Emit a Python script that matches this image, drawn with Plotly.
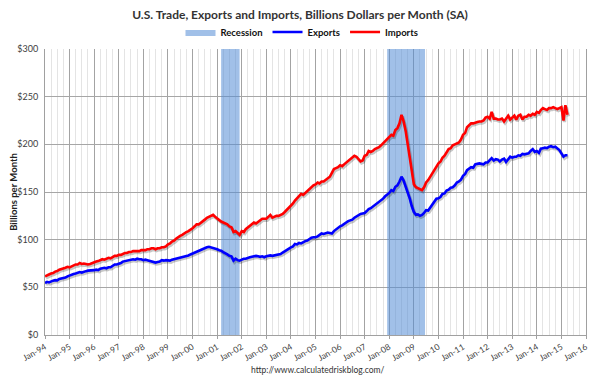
import pandas as pd
import plotly.graph_objects as go

# Monthly values, billions of dollars, Jan 1994 onward (seasonally adjusted)
exports = [
    54.5, 55.8, 55.2, 56.5, 57.0, 57.5, 57.3, 58.8, 59.2, 59.5, 60.3, 61.5,
    62.5, 63.5, 64.0, 64.5, 65.0, 66.0, 65.5, 66.5, 67.0, 67.5, 67.5, 68.0,
    68.0, 68.5, 68.0, 69.5, 70.0, 70.5, 70.0, 71.0, 71.0, 73.0, 74.0, 74.0,
    74.5, 75.5, 77.0, 77.5, 77.5, 78.5, 79.0, 79.5, 79.0, 80.0, 79.5, 79.5,
    78.5, 79.0, 78.5, 78.0, 77.0, 76.5, 76.0, 76.5, 77.0, 78.5, 78.0, 78.5,
    78.0, 78.0, 79.0, 79.5, 80.0, 80.5, 81.0, 82.0, 82.5, 83.0, 83.5, 84.5,
    85.5, 86.0, 87.0, 88.0, 89.0, 90.5, 91.0, 92.0, 92.5, 92.0, 91.5, 91.0,
    90.0, 89.0, 88.5, 87.0, 86.0, 84.5, 83.0, 82.5, 78.0, 80.0, 78.5, 78.0,
    79.0, 80.0, 80.0, 81.0, 81.5, 82.0, 82.5, 83.0, 82.5, 82.0, 82.5, 81.5,
    82.5, 83.0, 83.5, 83.0, 83.5, 84.0, 85.0, 85.0, 86.5, 88.0, 89.0, 90.5,
    92.0, 93.0, 95.5, 95.0, 96.5, 96.0, 97.5, 98.5, 99.0, 100.5, 102.0, 102.5,
    102.5, 103.5, 105.0, 106.5, 106.0, 107.0, 107.5, 107.0, 106.5, 109.0, 111.0, 112.0,
    114.0, 115.0, 116.0, 118.0, 119.5, 120.0, 121.0, 123.0, 124.5, 125.5, 127.0, 127.5,
    128.0, 130.0, 132.0, 133.0, 134.5, 136.0, 137.5, 139.5, 141.5, 143.0, 145.5, 147.0,
    149.0, 152.0, 151.0, 155.5, 157.0, 161.0, 166.0, 162.0, 156.0, 150.0, 143.0, 135.0,
    129.0, 126.0, 126.5, 125.0, 126.0, 128.0, 131.0, 130.5, 134.0, 137.5, 140.0, 143.0,
    143.5, 145.0, 148.0, 148.5, 151.5, 152.5, 154.5, 155.0, 157.0, 160.0, 161.0, 163.0,
    167.0, 169.0, 173.0, 174.5, 176.0, 175.5, 179.0, 179.5, 180.0, 179.5, 179.0, 181.0,
    181.0, 183.5, 185.5, 183.0, 184.5, 184.0, 182.0, 184.0, 185.0, 181.5, 185.0, 187.0,
    186.0, 187.0, 187.0, 188.5, 188.0, 190.0, 189.5, 190.0, 190.5, 193.0, 195.0, 192.0,
    193.0, 191.0, 195.5, 196.0, 196.5, 196.0, 197.5, 198.0, 197.0, 197.5, 196.0, 194.0,
    190.5, 187.0, 188.5, 188.5,
]

imports = [
    61.5, 63.0, 63.5, 64.5, 65.0, 66.5, 67.0, 68.5, 69.0, 70.0, 70.5, 71.5,
    71.0, 72.0, 73.0, 74.0, 74.0, 75.5, 74.5, 75.0, 74.5, 74.0, 74.5, 75.5,
    76.5, 77.0, 77.5, 79.0, 79.5, 79.0, 80.0, 81.0, 80.5, 82.0, 83.0, 83.0,
    84.0, 84.0, 85.0, 86.0, 86.0, 87.0, 87.0, 88.0, 88.0, 88.0, 88.0, 89.0,
    89.0, 89.0, 90.0, 90.0, 91.0, 91.0, 90.0, 91.0, 91.0, 92.0, 92.0, 93.0,
    95.0, 96.0, 98.0, 99.0, 101.0, 103.0, 104.0, 105.0, 107.0, 108.0, 109.0, 111.0,
    112.0, 114.0, 116.0, 116.0, 118.0, 120.0, 121.0, 123.0, 124.0, 125.0, 126.0, 124.0,
    122.0, 120.0, 119.0, 118.0, 117.0, 116.0, 114.0, 113.0, 108.0, 109.0, 107.0, 105.0,
    109.0, 108.0, 111.0, 113.0, 115.0, 117.0, 118.0, 117.0, 119.0, 120.0, 122.0, 122.0,
    122.0, 124.0, 126.0, 123.0, 124.0, 125.0, 125.0, 126.0, 127.0, 129.0, 131.0, 133.0,
    136.0, 138.0, 141.0, 143.0, 146.0, 148.0, 147.0, 149.0, 151.0, 154.0, 156.0, 157.0,
    158.0, 160.0, 159.0, 161.0, 161.0, 163.0, 164.0, 166.0, 170.0, 174.0, 175.0, 176.0,
    178.0, 177.0, 179.0, 181.0, 183.0, 185.0, 186.0, 188.0, 187.0, 184.0, 182.0, 183.0,
    188.0, 189.0, 193.0, 192.0, 193.0, 195.0, 196.0, 197.0, 199.0, 201.0, 204.0, 206.0,
    208.0, 210.0, 209.0, 215.0, 217.0, 222.0, 231.0, 224.0, 214.0, 200.0, 183.0, 168.0,
    158.0, 155.0, 154.0, 153.0, 152.0, 155.0, 160.0, 162.5, 166.0, 169.0, 172.0, 176.0,
    180.0, 182.0, 186.0, 188.0, 191.0, 195.0, 196.0, 199.0, 200.0, 201.0, 202.0, 205.0,
    210.0, 212.0, 218.0, 220.0, 222.0, 222.0, 223.0, 223.5, 224.0, 224.0, 225.0, 228.0,
    229.0, 227.0, 234.0, 227.0, 227.0, 226.0, 226.0, 227.0, 224.0, 227.0, 230.0, 226.0,
    228.0, 230.0, 226.0, 230.0, 231.0, 226.0, 229.0, 229.0, 231.0, 230.0, 232.0, 231.0,
    234.0, 233.0, 236.0, 238.0, 237.0, 236.0, 238.0, 238.0, 239.0, 238.0, 237.0, 238.0,
    239.0, 225.0, 241.0, 231.0,
]

first_month = "1994-01-01"
recession_start = ["2001-03-01", "2007-12-01"]
recession_end = ["2001-11-30", "2009-06-15"]
x_range = ["1994-01-01", "2016-01-01"]
y_max = 300

months = pd.date_range(first_month, periods=len(exports), freq="MS")

# recession shading polygons
rx, ry = [], []
for s, e in zip(recession_start, recession_end):
    rx += [s, s, e, e, s, None]
    ry += [0, y_max, y_max, 0, 0, None]

FONT = "Lato, 'Open Sans', sans-serif"

# page body has an 8px margin in the browser; the figure is sized to fit
W, H = 592, 368
PL, PR, PT, PB = 37, 14, 41, 41
plot_w, plot_h = W - PL - PR, H - PT - PB

# shadow axes: same scale, shifted by about 1px right and 1.6px down
x0, x1 = pd.Timestamp(x_range[0]), pd.Timestamp(x_range[1])
px_time = (x1 - x0) / plot_w
sx_range = [x0 - 1.0 * px_time, x1 - 1.0 * px_time]
dy = 1.6 * y_max / plot_h
sy_range = [dy, y_max + dy]

fig = go.Figure()
fig.add_trace(go.Scatter(
    x=rx, y=ry, mode="lines", fill="toself",
    fillcolor="rgba(83,141,213,0.55)", line=dict(width=0),
    name="Recession", hoverinfo="skip",
))
for vals in (exports, imports):
    fig.add_trace(go.Scatter(
        x=months, y=vals, mode="lines", showlegend=False, hoverinfo="skip",
        line=dict(color="rgba(0,0,0,0.22)", width=3.2),
        xaxis="x2", yaxis="y2",
    ))
fig.add_trace(go.Scatter(
    x=months, y=exports, mode="lines", name="Exports",
    line=dict(color="#0000FF", width=2.6), xaxis="x3", yaxis="y3",
))
fig.add_trace(go.Scatter(
    x=months, y=imports, mode="lines", name="Imports",
    line=dict(color="#FF0000", width=2.6), xaxis="x3", yaxis="y3",
))

hidden = dict(visible=False, showgrid=False, zeroline=False, fixedrange=True)

fig.update_layout(
    width=W, height=H,
    margin=dict(l=PL, r=PR, t=PT, b=PB, autoexpand=False),
    paper_bgcolor="white", plot_bgcolor="white",
    font=dict(family=FONT, color="#333333"),
    title=dict(
        text="U.S. Trade, Exports and Imports, Billions Dollars per Month (SA)",
        x=292 / W, xanchor="center", xref="container",
        y=1 - 7 / H, yref="container", yanchor="middle",
        font=dict(size=12, color="#333333", family=FONT, weight="bold"),
    ),
    showlegend=True,
    legend=dict(
        orientation="h", x=294 / W, xanchor="center", xref="container",
        y=1 - 24 / H, yanchor="middle", yref="container",
        font=dict(size=9.5, color="#111111", weight="bold"),
        itemwidth=30, tracegroupgap=0,
        bgcolor="rgba(0,0,0,0)",
    ),
    xaxis=dict(
        type="date", automargin=False,
        range=x_range,
        tick0=first_month, dtick="M12", tickformat="%b-%y",
        tickangle=-30,
        tickfont=dict(size=8.5, color="#404040"),
        ticks="outside", ticklen=3, tickcolor="#a0a0a0",
        showgrid=True, gridcolor="#a3a3a3", gridwidth=1,
        minor=dict(dtick="M3", showgrid=True, gridcolor="#e4e4e4", gridwidth=1, ticks=""),
        showline=True, linecolor="#a0a0a0", linewidth=1,
        zeroline=False,
    ),
    yaxis=dict(
        range=[0, y_max], dtick=50, tickprefix="$", automargin=False,
        tickfont=dict(size=9, color="#404040"),
        showgrid=True, gridcolor="#a6a6a6", gridwidth=1,
        showline=True, linecolor="#a0a0a0", linewidth=1, mirror=True,
        zeroline=False,
        ticks="", ticklabelstandoff=4,
        title=dict(text="Billions per Month", standoff=2,
                   font=dict(size=9.5, color="#222222", weight="bold")),
    ),
    xaxis2=dict(type="date", overlaying="x", range=sx_range, **hidden),
    yaxis2=dict(overlaying="y", range=sy_range, **hidden),
    xaxis3=dict(type="date", overlaying="x", range=x_range, **hidden),
    yaxis3=dict(overlaying="y", range=[0, y_max], **hidden),
    annotations=[dict(
        text="http://www.calculatedriskblog.com/",
        xref="paper", yref="paper", x=(309 - PL) / plot_w, y=-35 / plot_h,
        xanchor="center", yanchor="middle", showarrow=False,
        font=dict(size=8.5, color="#333333"),
    )],
)

fig.write_html("out.html")
